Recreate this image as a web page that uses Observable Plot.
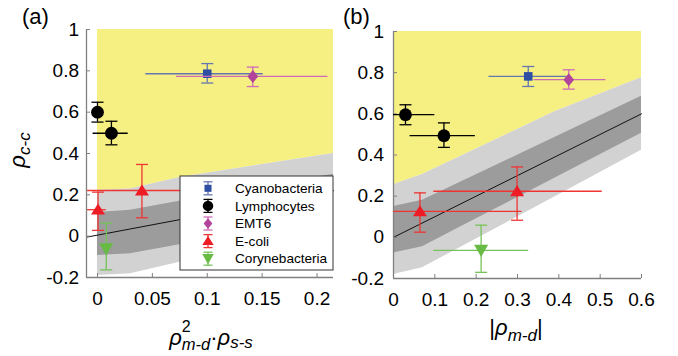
<!DOCTYPE html>
<html><head><meta charset="utf-8">
<script src="https://cdn.jsdelivr.net/npm/d3@7"></script>
<script src="https://cdn.jsdelivr.net/npm/@observablehq/plot@0.6"></script>
<style>
body{margin:0;background:#fff;}
#chart{position:relative;width:678px;height:356px;font-family:"Liberation Sans",Arial,sans-serif;}
#chart svg{position:absolute;top:0;overflow:visible;}
</style></head><body><div id="chart"></div>
<script>
// ---------- data ----------
const seriesNames = ["Cyanobacteria","Lymphocytes","EMT6","E-coli","Corynebacteria"];
const yDomain = [-0.2, 1];
const yTicks = [-0.2, 0, 0.2, 0.4, 0.6, 0.8, 1];

// panel (a)
const aXDomain = [-0.01, 0.215];
const aXTicks = [0, 0.05, 0.1, 0.15, 0.2];
const aName = ["Cyanobacteria","Lymphocytes","Lymphocytes","EMT6","E-coli","E-coli","Corynebacteria"];
const aX   = [0.100, 0.000, 0.0127, 0.1415, 0.0005, 0.0405, 0.008];
const aY   = [0.786, 0.600, 0.498, 0.773, 0.128, 0.221, -0.061];
const aXLo = [0.044, 0.000, -0.004, 0.072, -0.009, -0.009, 0.008];
const aXHi = [0.151, 0.000, 0.028, 0.210, 0.008, 0.090, 0.008];
const aYLo = [0.741, 0.552, 0.442, 0.724, 0.028, 0.089, -0.163];
const aYHi = [0.835, 0.648, 0.556, 0.818, 0.213, 0.347, 0.063];
const aBandX   = [0, 0.03, 0.076, 0.215];
const aLightLo = [-0.19, -0.182, -0.125, 0.03];
const aDarkLo  = [-0.093, -0.085, -0.04, 0.12];
const aDarkHi  = [0.115, 0.125, 0.17, 0.30];
const aLightHi = [0.222, 0.228, 0.285, 0.40];
const aFitX = [-0.01, 0.215];
const aFitY = [-0.005, 0.22];

// panel (b)
const bXDomain = [0, 0.6];
const bXTicks = [0, 0.1, 0.2, 0.3, 0.4, 0.5, 0.6];
const bName = ["Cyanobacteria","Lymphocytes","Lymphocytes","EMT6","E-coli","E-coli","Corynebacteria"];
const bX   = [0.326, 0.029, 0.122, 0.424, 0.064, 0.299, 0.212];
const bY   = [0.782, 0.596, 0.494, 0.766, 0.126, 0.224, -0.063];
const bXLo = [0.231, 0.000, 0.040, 0.340, 0.000, 0.0975, 0.0975];
const bXHi = [0.420, 0.100, 0.198, 0.514, 0.311, 0.505, 0.327];
const bYLo = [0.733, 0.547, 0.437, 0.720, 0.025, 0.083, -0.170];
const bYHi = [0.830, 0.644, 0.556, 0.814, 0.216, 0.342, 0.059];
const bBandX   = [0, 0.07, 0.19, 0.39, 0.6];
const bLightLo = [-0.181, -0.148, -0.019, 0.196, 0.423];
const bDarkLo  = [-0.076, -0.046, 0.079, 0.287, 0.506];
const bDarkHi  = [0.150, 0.180, 0.294, 0.485, 0.685];
const bLightHi = [0.256, 0.305, 0.420, 0.610, 0.775];
const bFitX = [0, 0.6];
const bFitY = [0, 0.6];

// ---------- styles ----------
const YELLOW = "#f6ef82", LIGHT = "#d2d2d2", DARK = "#9c9c9c", AXIS = "#808080";
const rad = s => Math.sqrt(s / Math.PI);
const symSquare = {draw(c, s){const r = rad(s); c.rect(-r, -r, 2*r, 2*r);}};
const symDiamond = {draw(c, s){const r = rad(s); c.moveTo(0,-r); c.lineTo(0.82*r,0); c.lineTo(0,r); c.lineTo(-0.82*r,0); c.closePath();}};
const symUp = {draw(c, s){const r = rad(s); c.moveTo(0,-0.88*r); c.lineTo(r,0.7*r); c.lineTo(-r,0.7*r); c.closePath();}};
const symDown = {draw(c, s){const r = rad(s); c.moveTo(0,0.95*r); c.lineTo(r,-0.8*r); c.lineTo(-r,-0.8*r); c.closePath();}};
const symCircle = {draw(c, s){const r = rad(s); c.moveTo(r,0); c.arc(0,0,r,0,2*Math.PI);}};
const symCap = {draw(c, s){const r = rad(s); c.moveTo(-r,0); c.lineTo(r,0);}};
const style = {
  "Cyanobacteria":  {fill:"#2f4fa2", stroke:"#6577b0", symbol:symSquare, r:4.3},
  "Lymphocytes":    {fill:"#000000", stroke:"#000000", symbol:symCircle, r:6.4},
  "EMT6":           {fill:"#b2449c", stroke:"#cf6cb9", symbol:symDiamond, r:6.5},
  "E-coli":         {fill:"#ee1c25", stroke:"#ef3434", symbol:symUp, r:7},
  "Corynebacteria": {fill:"#67bb45", stroke:"#76c258", symbol:symDown, r:7}
};

function panel(o) {
  const pts = o.names.map((name, i) => ({name, x:o.xs[i], y:o.ys[i], xlo:o.xlo[i], xhi:o.xhi[i], ylo:o.ylo[i], yhi:o.yhi[i]}));
  const band = o.bandX.map((x, i) => ({x, lightLo:o.lightLo[i], darkLo:o.darkLo[i], darkHi:o.darkHi[i], lightHi:o.lightHi[i]}));
  const fit = o.fitX.map((x, i) => ({x, y:o.fitY[i]}));
  const marks = [
    Plot.areaY(band, {x:"x", y1:"lightHi", y2:yDomain[1], fill:YELLOW}),
    Plot.areaY(band, {x:"x", y1:"lightLo", y2:"lightHi", fill:LIGHT}),
    Plot.areaY(band, {x:"x", y1:"darkLo", y2:"darkHi", fill:DARK}),
    Plot.line(fit, {x:"x", y:"y", stroke:"#111", strokeWidth:1}),
    Plot.ruleX([o.xDomain[0]], {stroke:AXIS, strokeWidth:1.3}),
    Plot.ruleY([yDomain[0]], {stroke:AXIS, strokeWidth:1.3}),
    Plot.axisX(o.xTicks, {tickSize:-4, tickPadding:18, tickFormat:d => String(d), stroke:AXIS, fill:"#000", label:null}),
    Plot.axisY(yTicks, {tickSize:-4, tickPadding:o.padY, tickFormat:d => String(d), stroke:AXIS, fill:"#000", label:null})
  ];
  for (const s of seriesNames) {
    const st = style[s];
    const d = pts.filter(p => p.name === s);
    marks.push(
      Plot.ruleY(d.filter(p => p.xhi > p.xlo), {y:"y", x1:"xlo", x2:"xhi", stroke:st.stroke, strokeWidth:1.3}),
      Plot.ruleX(d, {x:"x", y1:"ylo", y2:"yhi", stroke:st.stroke, strokeWidth:1.3}),
      Plot.dot(d, {x:"x", y:"ylo", symbol:symCap, r:6, fill:"none", stroke:st.stroke, strokeWidth:1.3}),
      Plot.dot(d, {x:"x", y:"yhi", symbol:symCap, r:6, fill:"none", stroke:st.stroke, strokeWidth:1.3}),
      Plot.dot(d, {x:"x", y:"y", symbol:st.symbol, r:st.r, fill:st.fill, stroke:"none"})
    );
  }
  return Plot.plot({
    width:o.width, height:356,
    marginLeft:o.ml, marginRight:o.mr, marginTop:o.mt, marginBottom:o.mb,
    x:{domain:o.xDomain, axis:null}, y:{domain:yDomain, axis:null},
    style:{fontFamily:'"Liberation Sans", Arial, sans-serif', fontSize:"19px", background:"transparent", overflow:"visible"},
    marks
  });
}

const chart = document.getElementById("chart");
const svgA = panel({width:340, ml:86, mr:7, mt:29, mb:79, padY:11.5, xDomain:aXDomain, xTicks:aXTicks,
  names:aName, xs:aX, ys:aY, xlo:aXLo, xhi:aXHi, ylo:aYLo, yhi:aYHi,
  bandX:aBandX, lightLo:aLightLo, darkLo:aDarkLo, darkHi:aDarkHi, lightHi:aLightHi, fitX:aFitX, fitY:aFitY});
svgA.style.left = "0px";
chart.appendChild(svgA);
const svgB = panel({width:338, ml:53, mr:37, mt:31, mb:78, padY:13.5, xDomain:bXDomain, xTicks:bXTicks,
  names:bName, xs:bX, ys:bY, xlo:bXLo, xhi:bXHi, ylo:bYLo, yhi:bYHi,
  bandX:bBandX, lightLo:bLightLo, darkLo:bDarkLo, darkHi:bDarkHi, lightHi:bLightHi, fitX:bFitX, fitY:bFitY});
svgB.style.left = "340px";
chart.appendChild(svgB);

// ---------- text labels ----------
const A = d3.select(svgA), B = d3.select(svgB);
A.append("text").attr("x", 22).attr("y", 24).attr("text-anchor", "start").attr("font-size", 22).attr("fill", "#000").text("(a)");
B.append("text").attr("x", 3).attr("y", 24).attr("text-anchor", "start").attr("font-size", 22).attr("fill", "#000").text("(b)");

const yl = A.append("text").attr("transform", "translate(25,150) rotate(-90)").attr("text-anchor", "middle").attr("font-size", 22).attr("fill", "#000");
yl.append("tspan").attr("font-style", "italic").text("ρ");
yl.append("tspan").attr("font-style", "italic").attr("font-size", 17).attr("dy", 5).text("c-c");

const xa = A.append("text").attr("x", 211).attr("y", 345).attr("text-anchor", "middle").attr("font-size", 22).attr("fill", "#000");
xa.append("tspan").attr("font-style", "italic").text("ρ");
xa.append("tspan").attr("font-size", 16).attr("dy", -13.5).text("2");
xa.append("tspan").attr("font-style", "italic").attr("font-size", 16.5).attr("dx", -8.9).attr("dy", 18).text("m-d");
xa.append("tspan").attr("dy", -4.5).text("·");
xa.append("tspan").attr("font-style", "italic").text("ρ");
xa.append("tspan").attr("font-style", "italic").attr("font-size", 17).attr("dy", 3).text("s-s");

const xb = B.append("text").attr("x", 176).attr("y", 335).attr("text-anchor", "middle").attr("font-size", 22).attr("fill", "#000");
xb.append("tspan").text("|");
xb.append("tspan").attr("font-style", "italic").text("ρ");
xb.append("tspan").attr("font-style", "italic").attr("font-size", 17).attr("dy", 6).text("m-d");
xb.append("tspan").attr("dy", -6).text("|");

// ---------- legend (panel a) ----------
const lg = A.append("g").attr("transform", "translate(180,176)");
lg.append("rect").attr("width", 153).attr("height", 94).attr("fill", "#fff").attr("stroke", "#333").attr("stroke-width", 1);
seriesNames.forEach((s, i) => {
  const st = style[s];
  const g = lg.append("g").attr("transform", `translate(28,${12.3 + i * 17.6})`);
  g.append("line").attr("y1", -6.5).attr("y2", 6.5).attr("stroke", st.stroke).attr("stroke-width", 1.3);
  g.append("line").attr("x1", -4.5).attr("x2", 4.5).attr("y1", -6.5).attr("y2", -6.5).attr("stroke", st.stroke).attr("stroke-width", 1.3);
  g.append("line").attr("x1", -4.5).attr("x2", 4.5).attr("y1", 6.5).attr("y2", 6.5).attr("stroke", st.stroke).attr("stroke-width", 1.3);
  const rr = st.r * 0.82;
  g.append("path").attr("d", d3.symbol().type(st.symbol).size(Math.PI * rr * rr)()).attr("fill", st.fill);
  lg.append("text").attr("x", 55).attr("y", 12.3 + i * 17.6).attr("dy", "0.35em").attr("text-anchor", "start").attr("font-size", 13.6).attr("fill", "#000").text(s);
});
</script></body></html>
